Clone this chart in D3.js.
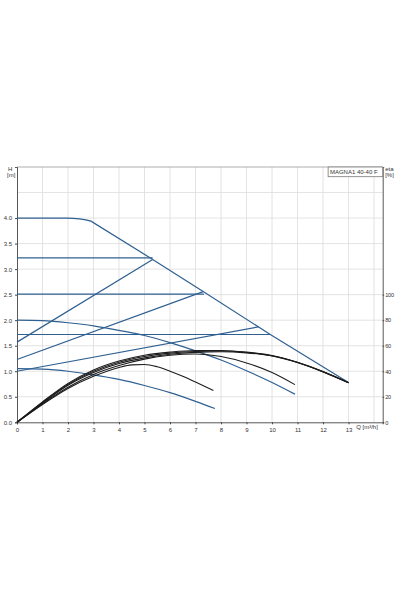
<!DOCTYPE html>
<html>
<head>
<meta charset="utf-8">
<script src="https://cdn.jsdelivr.net/npm/d3@7"></script>
<style>
    body { margin: 0; background: #fff; }
    .lbl-xs { font-family: "Liberation Sans", Arial, sans-serif; font-size: 6px; fill: #333; }
    .grid line { stroke: #dcdcdc; stroke-width: 0.8; }
</style>
</head>
<body>
<div id="chart"></div>
<script>
// Q in m3/h, H in m, eta in %
var qTicks = [0, 1, 2, 3, 4, 5, 6, 7, 8, 9, 10, 11, 12, 13];
var qGrid = [1, 2, 3, 4, 5, 6, 7, 8, 9, 10, 11, 12, 13, 14];
var hTicks = [0.0, 0.5, 1.0, 1.5, 2.0, 2.5, 3.0, 3.5, 4.0];
var hGrid = [0.5, 1.0, 1.5, 2.0, 2.5, 3.0, 3.5, 4.0, 4.5];
var etaTicks = [0, 20, 40, 60, 80, 100];
var pumpName = "MAGNA1 40-40 F";

var maxCurve = [[0, 4.0], [1.95, 4.0], [2.2, 3.995], [2.45, 3.985], [2.7, 3.965], [2.9, 3.94],
    [5.32, 3.19], [7.3, 2.56], [9.9, 1.73], [13, 0.78]];

// constant pressure: head, flow where it meets the max curve
var constHead = [3.22, 2.51, 1.72];
var constEnd = [5.32, 7.33, 9.93];

// proportional pressure: start head at Q=0, end point on max curve
var propStart = [1.57, 1.23, 1.0];
var propEndQ = [5.32, 7.3, 9.47];
var propEndH = [3.19, 2.56, 1.87];

var minCurve1 = [[0, 2.0], [1, 1.99], [2, 1.95], [3, 1.89], [4, 1.8], [5, 1.7], [6, 1.56],
    [7, 1.4], [8, 1.22], [9, 1.01], [10, 0.78], [10.9, 0.55]];
var minCurve2 = [[0, 1.05], [1, 1.04], [2, 1.0], [3, 0.93], [4, 0.84], [5, 0.72],
    [6, 0.58], [7, 0.41], [7.76, 0.27]];

var etaA = [[0, 0], [1, 14], [2, 26.5], [3, 36], [4, 43], [4.5, 45], [5, 45.3], [5.5, 43.5],
    [6, 40], [6.5, 36], [7, 31.5], [7.7, 25]];
var etaB = [[0, 0], [1, 14.5], [2, 27.5], [3, 37.5], [4, 44.5], [5, 49.5], [6, 52.5],
    [7, 53.5], [8, 51.5], [9, 46.5], [10, 39], [10.9, 29.5]];
var etaC = [[0, 0], [1, 16], [2, 30.5], [3, 41], [4, 48], [5, 52.5], [6, 55], [7, 56.3],
    [8, 56.3], [9, 55], [10, 52.3], [11, 47], [12, 39.8], [13, 31]];
var etaD = [[0, 0], [1, 15], [2, 29], [3, 39], [4, 46], [5, 50.5], [6, 53.3], [7, 54.8],
    [8, 55.3], [9, 54.4], [10, 52], [11, 46.8], [12, 39.5], [13, 31]];
var etaE = [[0, 0], [1, 15.5], [2, 29.8], [3, 40], [4, 47], [5, 51.5], [6, 54.2], [7, 55.5],
    [8, 55.8], [9, 54.7], [10, 52.1], [11, 46.9], [12, 39.6], [13, 31]];

var blue = "#2f6091";
var black = "#1c1c1c";

var margin = { top: 167, right: 12.3, bottom: 169.7, left: 17 };
var width = 395 - margin.left - margin.right;
var height = 592 - margin.top - margin.bottom;

var svg = d3.select("#chart").append("svg")
    .attr("width", 395)
    .attr("height", 592)
    .append("g")
    .attr("transform", "translate(" + margin.left + "," + margin.top + ")");

var x = d3.scaleLinear().domain([0, 14.34]).range([0, width]);
var y = d3.scaleLinear().domain([0, 5]).range([height, 0]);
var yEta = d3.scaleLinear().domain([0, 200]).range([height, 0]);

// grid
var grid = svg.append("g").attr("class", "grid");
grid.selectAll(".vg").data(qGrid).enter().append("line")
    .attr("x1", function(d) { return x(d); })
    .attr("x2", function(d) { return x(d); })
    .attr("y1", 0).attr("y2", height);
grid.selectAll(".hg").data(hGrid).enter().append("line")
    .attr("x1", 0).attr("x2", width)
    .attr("y1", function(d) { return y(d); })
    .attr("y2", function(d) { return y(d); });

svg.append("line")
    .attr("x1", 0).attr("x2", width)
    .attr("y1", 0).attr("y2", 0)
    .attr("stroke", "#999").attr("stroke-width", 0.8);

// axes
var xAxis = d3.axisBottom(x).tickValues(qTicks).tickSize(2).tickFormat(d3.format("d"));
var yAxis = d3.axisLeft(y).tickValues(hTicks).tickSize(2).tickFormat(d3.format(".1f"));
var etaAxis = d3.axisRight(yEta).tickValues(etaTicks).tickSize(1.5).tickPadding(1)
    .tickFormat(d3.format("d"));

[svg.append("g").attr("transform", "translate(0," + height + ")").call(xAxis),
 svg.append("g").call(yAxis),
 svg.append("g").attr("class", "eta-axis").attr("transform", "translate(" + width + ",0)").call(etaAxis)
].forEach(function(g) {
    g.select(".domain").attr("stroke", "#444").attr("stroke-width", 0.9);
    g.selectAll(".tick line").attr("stroke", "#444");
    g.selectAll(".tick text").attr("class", "lbl-xs").attr("font-size", null).attr("font-family", null);
});
svg.selectAll(".eta-axis .tick text").style("font-size", "5.6px").attr("letter-spacing", "-0.2");

svg.append("text").attr("class", "lbl-xs").attr("x", -9).attr("y", 3.5).text("H");
svg.append("text").attr("class", "lbl-xs").attr("x", -10).attr("y", 9.5).text("[m]");
svg.append("text").attr("class", "lbl-xs").attr("x", width + 2.5).attr("y", 4).text("eta");
svg.append("text").attr("class", "lbl-xs").attr("x", width + 2.5).attr("y", 10).text("[%]");
svg.append("text").attr("class", "lbl-xs").attr("x", x(13.3)).attr("y", height + 7).text("Q [m\u00b3/h]");

// pump name box
svg.append("rect")
    .attr("x", x(12.2)).attr("y", 0)
    .attr("width", width - x(12.2)).attr("height", 9.7)
    .attr("fill", "#fff").attr("stroke", "#777").attr("stroke-width", 0.8);
svg.append("text").attr("class", "lbl-xs")
    .attr("x", x(12.27)).attr("y", 6.6)
    .text(pumpName);

var line = d3.line()
    .x(function(d) { return x(d[0]); })
    .y(function(d) { return y(d[1]); })
    .curve(d3.curveMonotoneX);
var straight = d3.line()
    .x(function(d) { return x(d[0]); })
    .y(function(d) { return y(d[1]); });
var etaLine = d3.line()
    .x(function(d) { return x(d[0]); })
    .y(function(d) { return yEta(d[1]); })
    .curve(d3.curveMonotoneX);

var hq = [maxCurve];
constHead.forEach(function(h, i) { hq.push([[0, h], [constEnd[i], h]]); });
propStart.forEach(function(h, i) { hq.push([[0, h], [propEndQ[i], propEndH[i]]]); });

svg.selectAll(".hq").data(hq).enter().append("path")
    .attr("class", "hq")
    .attr("d", straight)
    .attr("fill", "none")
    .attr("stroke", blue)
    .attr("stroke-width", 1.2);

svg.selectAll(".hqmin").data([minCurve1, minCurve2]).enter().append("path")
    .attr("class", "hqmin")
    .attr("d", line)
    .attr("fill", "none")
    .attr("stroke", blue)
    .attr("stroke-width", 1.2);

svg.selectAll(".eta").data([etaA, etaB, etaD, etaE, etaC]).enter().append("path")
    .attr("class", "eta")
    .attr("d", etaLine)
    .attr("fill", "none")
    .attr("stroke", black)
    .attr("stroke-width", 1.1);
</script>
</body>
</html>
